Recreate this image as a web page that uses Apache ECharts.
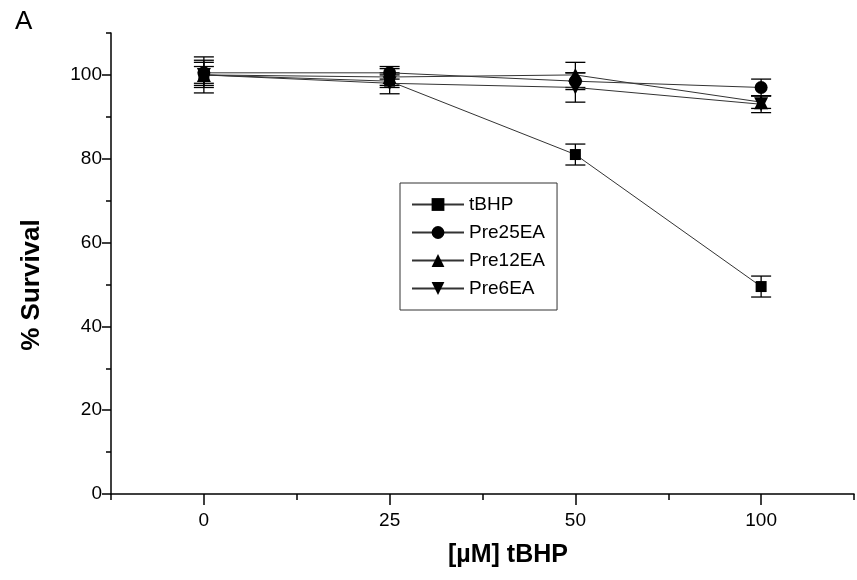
<!DOCTYPE html>
<html>
<head>
<meta charset="utf-8">
<script src="https://cdn.jsdelivr.net/npm/echarts@6/dist/echarts.min.js"></script>
<style>html,body{margin:0;padding:0;background:#fff;}#c{width:857px;height:580px;}</style>
</head>
<body>
<div id="c"></div>
<script>
// ---- data ----
const categories = ['0', '25', '50', '100'];
const yTickLabels = ['0', '20', '40', '60', '80', '100'];
const seriesNames = ['tBHP', 'Pre25EA', 'Pre12EA', 'Pre6EA'];
const tBHP = [100, 98.5, 81, 49.5];
const tBHPErr = [2, 1.5, 2.5, 2.5];
const pre25EA = [100.5, 100.5, 98.5, 97];
const pre25EAErr = [3, 1.5, 2, 2];
const pre12EA = [100, 99.5, 100, 93.5];
const pre12EAErr = [4.3, 2, 3, 1.5];
const pre6EA = [100, 98, 97, 93];
const pre6EAErr = [3, 2.5, 3.5, 2];

const valuesList = [tBHP, pre25EA, pre12EA, pre6EA];
const errList = [tBHPErr, pre25EAErr, pre12EAErr, pre6EAErr];
const symbols = ['rect', 'circle', 'triangle', 'triangle'];
const symbolSizes = [11, 13, 14, 14];
const rotates = [0, 0, 0, 180];

const font = 'Liberation Sans, Arial, sans-serif';

// category-style tick label arrays for the overlay axes
const xCatData = [''];
categories.forEach(c => { xCatData.push(c); xCatData.push(''); });
const yCatData = [];
yTickLabels.forEach(t => { yCatData.push(t); yCatData.push(''); });

const series = [];
valuesList.forEach((vals, s) => {
  series.push({
    name: seriesNames[s],
    type: 'line',
    xAxisIndex: 0, yAxisIndex: 0,
    data: vals.map((v, i) => [i + 1, v]),
    symbol: symbols[s],
    symbolSize: symbolSizes[s],
    symbolRotate: rotates[s],
    lineStyle: { color: '#333', width: 1 },
    itemStyle: { color: '#000' },
    z: 3
  });
  series.push({
    name: seriesNames[s] + ' err',
    type: 'custom',
    xAxisIndex: 0, yAxisIndex: 0,
    data: vals.map((v, i) => [i + 1, v - errList[s][i], v + errList[s][i]]),
    renderItem: function (params, api) {
      const lo = api.coord([api.value(0), api.value(1)]);
      const hi = api.coord([api.value(0), api.value(2)]);
      const hw = 10;
      const st = { stroke: '#000', lineWidth: 1.3 };
      return {
        type: 'group',
        children: [
          { type: 'line', shape: { x1: lo[0], y1: lo[1], x2: hi[0], y2: hi[1] }, style: st },
          { type: 'line', shape: { x1: lo[0] - hw, y1: lo[1], x2: lo[0] + hw, y2: lo[1] }, style: st },
          { type: 'line', shape: { x1: hi[0] - hw, y1: hi[1], x2: hi[0] + hw, y2: hi[1] }, style: st }
        ]
      };
    },
    z: 2
  });
});

const chart = echarts.init(document.getElementById('c'), null, { renderer: 'canvas' });
chart.setOption({
  animation: false,
  backgroundColor: '#fff',
  grid: { left: 111, top: 33, right: -10, bottom: 86, containLabel: false },
  xAxis: [
    {
      type: 'value', min: 0.5, max: 4.5, interval: 0.5, position: 'bottom',
      axisLine: { show: true, lineStyle: { color: '#000', width: 1.5 } },
      axisTick: { show: true, length: 6, inside: false, lineStyle: { color: '#000', width: 1.5 } },
      axisLabel: { show: false },
      splitLine: { show: false }
    },
    {
      type: 'category', data: xCatData, boundaryGap: false, position: 'bottom', offset: 0,
      axisLine: { show: false },
      axisTick: { show: true, length: 11, interval: (i) => i % 2 === 1, lineStyle: { color: '#000', width: 1.5 } },
      axisLabel: { show: true, interval: 0, margin: 17, fontSize: 19, color: '#000', fontFamily: font },
      splitLine: { show: false }
    }
  ],
  yAxis: [
    {
      type: 'value', min: 0, max: 110, interval: 10, position: 'left',
      axisLine: { show: true, lineStyle: { color: '#000', width: 1.5 } },
      axisTick: { show: true, length: 5, inside: false, lineStyle: { color: '#000', width: 1.5 } },
      axisLabel: { show: false },
      splitLine: { show: false }
    },
    {
      type: 'category', data: yCatData, boundaryGap: false, position: 'left', offset: 0,
      axisLine: { show: false },
      axisTick: { show: true, length: 9, interval: (i) => i % 2 === 0, lineStyle: { color: '#000', width: 1.5 } },
      axisLabel: { show: true, interval: 0, margin: 9, fontSize: 19, color: '#000', fontFamily: font },
      splitLine: { show: false }
    }
  ],
  legend: {
    data: seriesNames,
    orient: 'vertical',
    left: 400, top: 183,
    backgroundColor: '#fff',
    borderColor: '#333', borderWidth: 1,
    padding: [12, 12, 12, 11],
    itemWidth: 52, itemHeight: 16, itemGap: 9,
    textStyle: { fontSize: 19, color: '#000', fontFamily: font }
  },
  graphic: [
    { type: 'text', left: 15, top: 9, style: { text: 'A', font: '26px ' + font, fill: '#000' } },
    { type: 'text', x: 32, y: 285, rotation: Math.PI / 2, style: { text: '% Survival', font: 'bold 26px ' + font, fill: '#000', textAlign: 'center', textVerticalAlign: 'middle' } },
    { type: 'text', x: 508, y: 555, style: { text: '[µM] tBHP', font: 'bold 25px ' + font, fill: '#000', textAlign: 'center', textVerticalAlign: 'middle' } }
  ],
  series: series
});
</script>
</body>
</html>
